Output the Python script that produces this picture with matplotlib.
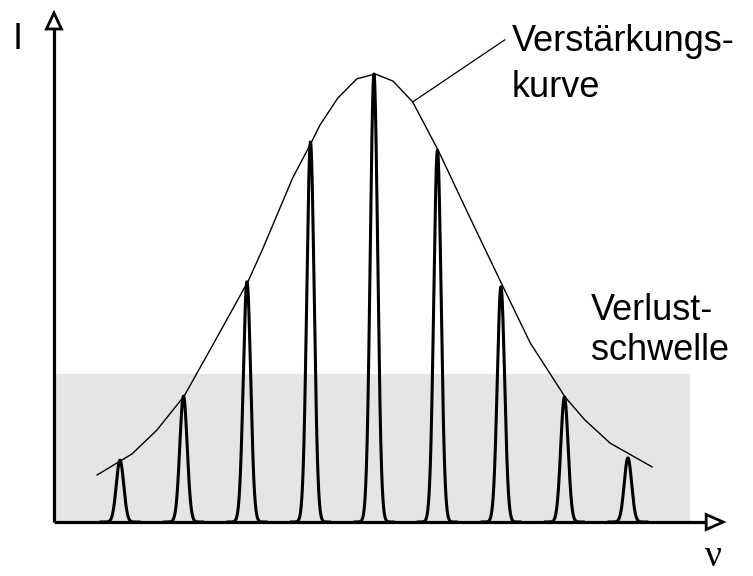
import numpy as np
import matplotlib
matplotlib.use("Agg")
import matplotlib.pyplot as plt
from matplotlib.patches import Polygon, Rectangle

# longitudinal modes: position (mode index) and relative intensity
mode_pos = [-4, -3, -2, -1, 0, 1, 2, 3, 4]
mode_height = [0.138, 0.281, 0.536, 0.848, 1.0, 0.830, 0.525, 0.279, 0.143]
mode_sigma = 0.058

# gain curve ("Verstaerkungskurve")
gain_x = [-4.36, -3.81, -3.42, -2.99, -2.50, -1.98, -1.76, -1.28, -0.99, -0.85,
          -0.57, -0.27, 0.02, 0.30, 0.61, 1.01, 1.51, 2.02, 2.46, 3.01,
          3.32, 3.72, 4.38]
gain_y = [0.105, 0.152, 0.205, 0.281, 0.405, 0.538, 0.607, 0.768, 0.846, 0.886,
          0.946, 0.989, 1.0, 0.984, 0.9375, 0.830, 0.680, 0.529, 0.400, 0.279,
          0.228, 0.176, 0.123]

# loss threshold
loss_level = 0.330
loss_x = (-5.02, 4.98)

# axes extents
x0, x_end = -5.04, 5.50
y_top = 1.136

fig = plt.figure(figsize=(7.53, 5.76), dpi=100)
ax = fig.add_axes([0, 0, 1, 1])
ax.set_xlim(-5.89, 5.97)
ax.set_ylim(-0.1205, 1.165)
ax.axis("off")

# gray loss area
ax.add_patch(Rectangle((loss_x[0], 0), loss_x[1] - loss_x[0], loss_level,
                       facecolor="#e5e5e5", edgecolor="none", zorder=0))

# gain curve + leader line
ax.plot(gain_x, gain_y, color="black", lw=1.0, zorder=2)
ax.plot([0.61, 2.06], [0.9375, 1.076], color="black", lw=0.9, zorder=2)

# mode peaks
for c, h in zip(mode_pos, mode_height):
    xx = np.linspace(c - 0.3, c + 0.3, 300)
    yy = h * np.exp(-(xx - c) ** 2 / (2 * mode_sigma ** 2))
    ax.plot(xx, yy, color="black", lw=2.2, zorder=3, solid_joinstyle="round")

# axes with open arrow heads
hl_x, hw_x = 17 / 63.5, 7.5 / 63.5
hl_y, hw_y = 16 / 448, 7.5 / 448
ax.plot([x0, x_end - hl_x], [0, 0], color="black", lw=2.3, zorder=4,
        solid_capstyle="butt")
ax.plot([x0, x0], [0, y_top - hl_y], color="black", lw=2.3, zorder=4,
        solid_capstyle="butt")
ax.add_patch(Polygon([(x_end, 0), (x_end - hl_x, hw_y), (x_end - hl_x, -hw_y)],
                     closed=True, facecolor="white", edgecolor="black", lw=2.0,
                     joinstyle="miter", zorder=5))
ax.add_patch(Polygon([(x0, y_top), (x0 - hw_x, y_top - hl_y), (x0 + hw_x, y_top - hl_y)],
                     closed=True, facecolor="white", edgecolor="black", lw=2.0,
                     joinstyle="miter", zorder=5))

# labels
sans = "Liberation Sans"
ax.text(-5.61, 1.056, "I", fontsize=26, family=sans, ha="center", va="baseline")
ax.text(5.35, -0.117, "ν", fontsize=27, family="Liberation Serif",
        ha="center", va="bottom")
ax.text(2.17, 1.051, "Verstärkungs-", fontsize=26, family=sans, va="baseline")
ax.text(2.17, 0.949, "kurve", fontsize=26, family=sans, va="baseline")
ax.text(3.42, 0.451, "Verlust-", fontsize=26, family=sans, va="baseline")
ax.text(3.42, 0.362, "schwelle", fontsize=26, family=sans, va="baseline")

fig.savefig("out.png", dpi=100)
